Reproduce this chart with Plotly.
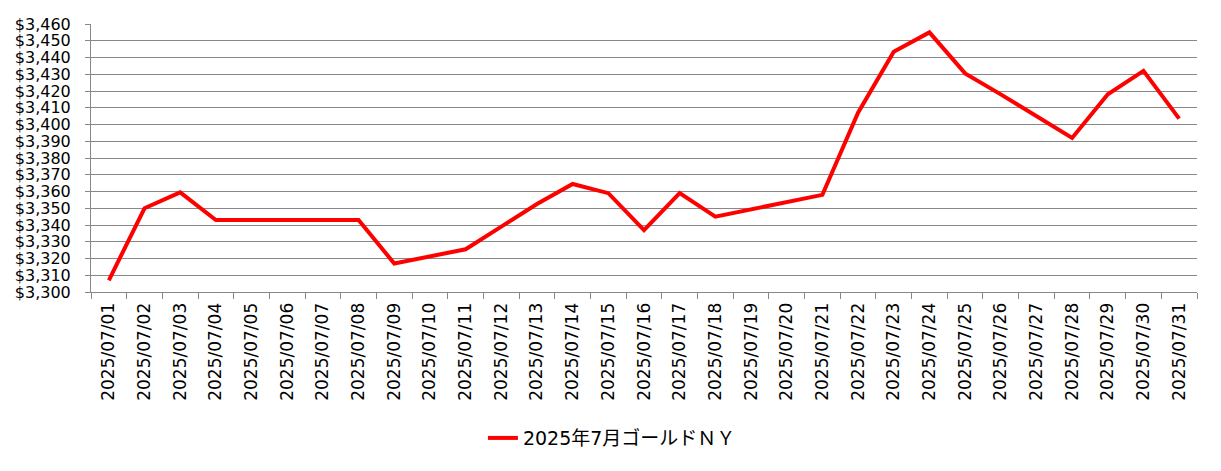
import plotly.graph_objects as go

dates = ["2025/07/%02d" % d for d in range(1, 32)]
prices = [
    3307, 3350, 3359.5, 3343, 3343, 3343, 3343, 3343, 3317, 3321,
    3325.5, 3339, 3352.5, 3364.5, 3359, 3337, 3359, 3345, 3349.5, 3354,
    3358, 3407, 3443.5, 3455, 3430.5, 3418, 3405, 3392, 3418, 3432,
    3403.5,
]
series_name = "2025年7月ゴールドＮＹ"

font_family = "DejaVu Sans, Noto Sans CJK JP, sans-serif"

fig = go.Figure()
fig.add_trace(
    go.Scatter(
        x=dates,
        y=prices,
        mode="lines",
        name=series_name,
        line=dict(color="#ff0000", width=4),
    )
)

# page body adds 8px, so margins are shifted by that amount
fig.update_layout(
    width=1221,
    height=471,
    margin=dict(l=83, r=32, t=16, b=187),
    paper_bgcolor="white",
    plot_bgcolor="white",
    font=dict(family=font_family, size=17, color="#000000"),
    showlegend=True,
    legend=dict(
        orientation="h",
        x=0.471,
        xanchor="center",
        y=-0.545,
        yanchor="middle",
        font=dict(size=19),
    ),
)
fig.update_xaxes(
    type="category",
    range=[-0.5, len(dates) - 0.5],
    tickangle=-90,
    tickson="boundaries",
    ticks="outside",
    ticklen=6,
    tickcolor="#888888",
    ticklabelstandoff=3,
    showline=True,
    linecolor="#888888",
    showgrid=False,
    automargin=False,
    tickfont=dict(size=17),
)
fig.update_yaxes(
    range=[3300, 3460],
    dtick=10,
    tickprefix="$",
    tickformat=",d",
    ticks="outside",
    ticklen=5,
    tickcolor="#888888",
    ticklabelstandoff=11,
    showline=True,
    linecolor="#888888",
    showgrid=True,
    gridcolor="#888888",
    gridwidth=1,
    zeroline=False,
    automargin=False,
    tickfont=dict(size=16),
)

fig.write_html("out.html")
